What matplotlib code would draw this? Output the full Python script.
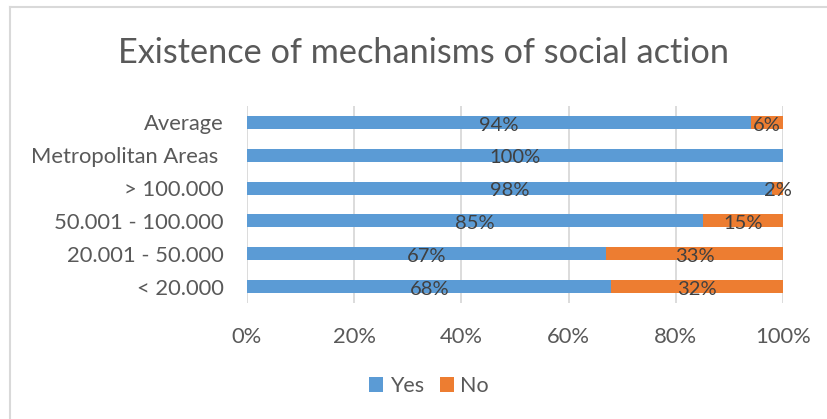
import matplotlib.pyplot as plt
from matplotlib.lines import Line2D

categories = ["< 20.000", "20.001 - 50.000", "50.001 - 100.000", "> 100.000",
              "Metropolitan Areas ", "Average"]
yes = [68, 67, 85, 98, 100, 94]
no = [32, 33, 15, 2, 0, 6]

blue = "#5B9BD5"
orange = "#ED7D31"
txt = "#595959"

plt.rcParams['font.family'] = ['Lato', 'DejaVu Sans']

fig = plt.figure(figsize=(8.27, 4.19), dpi=100)
ax = fig.add_axes([247 / 827, 1 - 303 / 419, 536 / 827, 197 / 419])

ypos = list(range(len(categories)))
ax.barh(ypos, yes, height=0.4, color=blue, label="Yes", zorder=3)
ax.barh(ypos, no, left=yes, height=0.4, color=orange, label="No", zorder=3)

for i in ypos:
    if yes[i] > 0:
        ax.text(yes[i] / 2, i - 0.08, f"{yes[i]}%", ha="center", va="center",
                fontsize=14.5, color="#404040", zorder=4)
    if no[i] > 0:
        ax.text(yes[i] + no[i] / 2, i - 0.08, f"{no[i]}%", ha="center", va="center",
                fontsize=14.5, color="#404040", zorder=4)

ax.set_xlim(0, 100)
ax.set_ylim(-0.5, len(categories) - 0.5)
ax.set_xticks(range(0, 101, 20))
ax.set_xticklabels([f"{v}%" for v in range(0, 101, 20)])
ax.set_yticks(ypos)
ax.set_yticklabels(categories)
ax.tick_params(axis="both", length=0, labelsize=15.8, labelcolor=txt)
ax.tick_params(axis="x", pad=17)
ax.tick_params(axis="y", pad=17)
ax.grid(axis="x", color="#D9D9D9", linewidth=1.3, zorder=0)
for s in ax.spines.values():
    s.set_visible(False)

fig.text(424 / 827, 1 - 53 / 419, "Existence of mechanisms of social action",
         ha="center", va="center", fontsize=24.7, color=txt)

handles, labels = ax.get_legend_handles_labels()
fig.legend(handles, labels, loc="center", bbox_to_anchor=(429 / 827, 1 - 386 / 419),
           ncol=2, frameon=False, fontsize=15.5, labelcolor=txt, handlelength=0.65,
           handleheight=0.65, handletextpad=0.3, columnspacing=0.75)

# chart frame (left and top edges visible)
fig.add_artist(Line2D([10 / 827, 10 / 827], [0, 1 - 7 / 419], transform=fig.transFigure,
                      color="#D9D9D9", linewidth=1.5))
fig.add_artist(Line2D([10 / 827, 1], [1 - 7 / 419, 1 - 7 / 419], transform=fig.transFigure,
                      color="#D9D9D9", linewidth=1.5))

fig.savefig("out.png", dpi=100, facecolor="white")
